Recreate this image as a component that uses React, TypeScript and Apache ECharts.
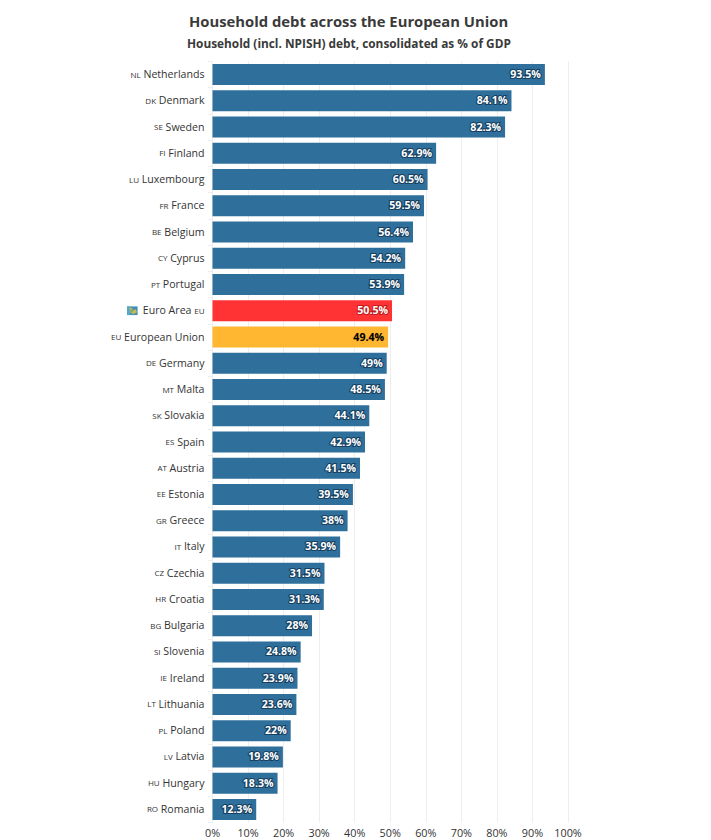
import React, { useEffect, useRef } from "react";
import * as echarts from "echarts";

const codes = ["NL","DK","SE","FI","LU","FR","BE","CY","PT","EU","EU","DE","MT","SK","ES","AT","EE","GR","IT","CZ","HR","BG","SI","IE","LT","PL","LV","HU","RO"];
const countries = ["Netherlands","Denmark","Sweden","Finland","Luxembourg","France","Belgium","Cyprus","Portugal","Euro Area","European Union","Germany","Malta","Slovakia","Spain","Austria","Estonia","Greece","Italy","Czechia","Croatia","Bulgaria","Slovenia","Ireland","Lithuania","Poland","Latvia","Hungary","Romania"];
const values = [93.5,84.1,82.3,62.9,60.5,59.5,56.4,54.2,53.9,50.5,49.4,49,48.5,44.1,42.9,41.5,39.5,38,35.9,31.5,31.3,28,24.8,23.9,23.6,22,19.8,18.3,12.3];
const xTicks = [0,10,20,30,40,50,60,70,80,90,100];

const FONT = '"Open Sans", sans-serif';
const BLUE = "#2f6f9b";
const flagSvg = "data:image/svg+xml;utf8," + encodeURIComponent(
  '<svg xmlns="http://www.w3.org/2000/svg" width="12" height="9"><rect width="12" height="9" fill="#3f8fb5"/><path d="M0 0h4v9H0z" fill="#5aa9c4"/><path d="M3 1l3 1 1 2 3-1 1 3-4 2-3-2z" fill="#c9b85a"/><path d="M5 3l2 1-1 2-2-1z" fill="#6fa86a"/></svg>'
);

export default function App() {
  const ref = useRef<HTMLDivElement>(null);
  useEffect(() => {
    const chart = echarts.init(ref.current!, undefined, { renderer: "svg" });
    chart.setOption({
      animation: false,
      backgroundColor: "#fff",
      title: [
        {
          text: "Household debt across the European Union",
          left: 189,
          top: 13,
          textStyle: { fontFamily: FONT, fontSize: 14.8, fontWeight: 700, color: "#3a3a3a" },
          padding: 0,
        },
        {
          text: "Household (incl. NPISH) debt, consolidated as % of GDP",
          left: 187,
          top: 37,
          textStyle: { fontFamily: FONT, fontSize: 11.85, fontWeight: 700, color: "#3a3a3a" },
          padding: 0,
        },
      ],
      grid: { left: 212.5, right: 143, top: 61.4, bottom: 17.4, containLabel: false },
      xAxis: {
        type: "value",
        min: 0,
        max: 100,
        interval: 10,
        axisLine: { show: false },
        axisTick: { show: false },
        splitLine: { show: true, lineStyle: { color: "#eeeeee", width: 1 } },
        axisLabel: {
          margin: 4,
          fontFamily: FONT,
          fontSize: 10.8,
          color: "#333",
          formatter: (v: number) => (xTicks.includes(v) ? `${v}%` : ""),
        },
      },
      yAxis: {
        type: "category",
        inverse: true,
        data: countries.map((c, i) => ({ value: `${i}` })),
        axisLine: { show: false },
        axisTick: { show: true, length: 5, lineStyle: { color: "#eeeeee" } },
        axisLabel: {
          margin: 8,
          align: "right",
          fontFamily: FONT,
          fontSize: 10.6,
          color: "#333",
          formatter: (v: string) => {
            const i = Number(v);
            if (countries[i] === "Euro Area") return `{flag|}{gap|}{name|${countries[i]}} {code|${codes[i]}}`;
            return `{code|${codes[i]}} {name|${countries[i]}}`;
          },
          rich: {
            name: { fontFamily: FONT, fontSize: 10.6, color: "#333", padding: [0, 0, 1, 0] },
            code: { fontFamily: FONT, fontSize: 8, color: "#333", padding: [0, 0, 1, 0] },
            flag: { width: 11, height: 9, backgroundColor: { image: flagSvg } },
            gap: { width: 5 },
          },
        },
      },
      series: [
        {
          type: "bar",
          barWidth: 21,
          data: values.map((v, i) => {
            const name = countries[i];
            const color = name === "Euro Area" ? "#ff3333" : name === "European Union" ? "#ffb732" : BLUE;
            const isEuU = name === "European Union";
            return {
              value: v,
              itemStyle: { color },
              label: {
                show: true,
                position: "insideRight",
                distance: 4,
                offset: [0, -0.5],
                formatter: `${v}%`,
                fontFamily: FONT,
                fontSize: 10.6,
                fontWeight: 700,
                color: isEuU ? "#000" : "#fff",
                textBorderColor: isEuU ? "rgba(60,40,0,0.35)" : name === "Euro Area" ? "rgba(170,20,20,0.7)" : "#174060",
                textBorderWidth: isEuU ? 0.4 : 2.2,
              },
            };
          }),
        },
      ],
    });
    return () => chart.dispose();
  }, []);
  return <div ref={ref} style={{ position: "fixed", left: 0, top: 0, width: 711, height: 840 }} />;
}
